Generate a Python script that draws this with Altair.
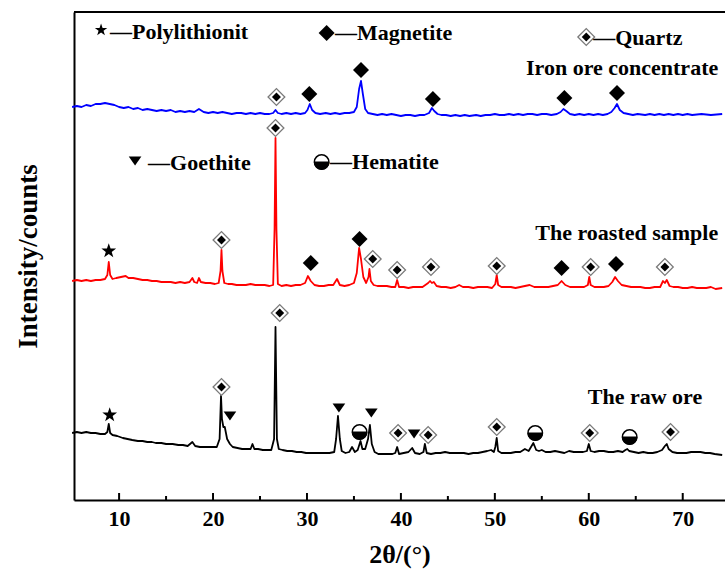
import altair as alt
import pandas as pd

# ---- XRD patterns: (2theta in degrees, stacked intensity in counts) ----
concentrate = [
    (5.0, 392), (5.5, 393), (6.0, 392), (6.5, 394), (7.0, 393), (7.5, 395), (8.0, 395),
    (8.5, 396), (9.0, 395), (9.5, 394), (10.0, 392), (10.5, 391), (11.0, 392), (11.5, 390),
    (12.0, 391), (12.5, 389), (13.0, 390), (13.5, 389), (14.0, 388), (14.5, 389), (15.0, 388),
    (15.5, 389), (16.0, 387), (16.5, 388), (17.0, 387), (17.5, 388), (18.0, 387), (18.5, 390),
    (19.0, 387), (19.5, 386), (20.0, 387), (20.5, 386), (21.0, 387), (21.5, 386), (22.0, 385),
    (22.5, 386), (23.0, 386), (23.5, 385), (24.0, 386), (24.5, 385), (25.0, 386), (25.5, 385),
    (26.0, 385), (26.4, 386), (26.65, 389), (26.9, 386), (27.3, 385), (27.8, 386), (28.3, 385),
    (28.8, 386), (29.3, 385), (29.8, 386), (30.05, 389), (30.3, 395), (30.55, 389), (30.9, 386),
    (31.4, 385), (32.0, 386), (32.5, 385), (33.0, 386), (33.5, 385), (34.0, 386), (34.5, 386),
    (35.0, 387), (35.3, 392), (35.55, 410), (35.75, 418), (35.95, 405), (36.2, 390), (36.5, 386),
    (37.0, 385), (37.5, 384), (38.0, 385), (38.5, 384), (39.0, 385), (39.5, 384), (40.0, 383),
    (40.5, 384), (41.0, 384), (41.5, 383), (42.0, 384), (42.5, 384), (43.0, 386), (43.3, 391),
    (43.55, 388), (43.9, 385), (44.3, 384), (44.8, 384), (45.3, 383), (45.8, 384), (46.3, 383),
    (46.8, 384), (47.3, 383), (48.0, 384), (48.5, 383), (49.0, 384), (49.5, 384), (50.0, 385),
    (50.5, 384), (51.0, 384), (51.5, 385), (52.0, 384), (52.5, 385), (53.0, 384), (53.5, 385),
    (54.0, 385), (54.5, 384), (55.0, 385), (55.5, 385), (56.0, 384), (56.6, 385), (57.0, 387),
    (57.3, 390), (57.6, 388), (58.0, 385), (58.5, 384), (59.0, 385), (59.5, 384), (60.0, 385),
    (60.5, 384), (61.0, 385), (61.5, 384), (62.0, 385), (62.4, 387), (62.75, 391), (63.0, 395),
    (63.3, 389), (63.7, 386), (64.2, 385), (64.7, 384), (65.2, 385), (66.0, 384), (66.5, 385),
    (67.0, 384), (67.5, 385), (68.0, 384), (68.5, 385), (69.0, 384), (69.5, 385), (70.0, 384),
    (70.5, 385), (71.0, 384), (72.0, 385), (73.0, 384), (74.2, 385),
]

roasted = [
    (5.0, 218), (5.5, 219), (6.0, 218), (6.5, 219), (7.0, 218), (7.5, 219), (8.0, 219),
    (8.5, 220), (8.75, 224), (8.9, 237), (9.05, 224), (9.3, 220), (9.7, 221), (10.2, 222),
    (10.7, 223), (11.0, 221), (11.5, 221), (12.0, 220), (12.5, 219), (13.0, 219), (13.5, 218),
    (14.0, 218), (14.5, 217), (15.0, 217), (15.5, 217), (16.0, 216), (16.5, 217), (17.0, 216),
    (17.5, 217), (17.8, 221), (18.0, 217), (18.3, 216), (18.5, 221), (18.7, 217), (19.2, 216),
    (19.7, 216), (20.2, 215), (20.6, 216), (20.8, 228), (20.9, 249), (21.0, 228), (21.2, 216),
    (21.6, 215), (22.0, 215), (22.5, 214), (23.0, 214), (23.5, 214), (24.0, 215), (24.5, 214),
    (25.0, 214), (25.5, 214), (26.0, 213), (26.4, 214), (26.55, 270), (26.65, 361), (26.75, 270),
    (26.9, 215), (27.3, 213), (27.8, 214), (28.3, 213), (28.8, 214), (29.3, 214), (29.8, 216),
    (30.1, 223), (30.4, 218), (30.8, 214), (31.3, 213), (31.8, 213), (32.3, 214), (32.8, 214),
    (33.2, 220), (33.5, 214), (34.0, 213), (34.5, 214), (35.0, 216), (35.3, 226), (35.55, 251),
    (35.75, 240), (36.0, 222), (36.3, 216), (36.55, 222), (36.65, 230), (36.8, 218), (37.1, 214),
    (37.5, 213), (38.0, 213), (38.5, 213), (39.0, 212), (39.4, 212), (39.6, 219), (39.8, 212),
    (40.3, 212), (40.8, 211), (41.3, 212), (41.8, 212), (42.3, 212), (42.9, 216), (43.1, 218),
    (43.3, 216), (43.5, 217), (43.8, 213), (44.3, 212), (44.8, 212), (45.3, 211), (45.8, 212),
    (46.2, 214), (46.6, 212), (47.2, 212), (47.7, 211), (48.2, 212), (48.7, 212), (49.2, 212),
    (49.7, 211), (50.05, 215), (50.2, 224), (50.35, 214), (50.7, 212), (51.2, 212), (51.7, 212),
    (52.2, 211), (52.7, 212), (53.2, 213), (53.7, 214), (54.2, 212), (54.7, 212), (55.2, 212),
    (55.7, 212), (56.2, 213), (56.7, 214), (57.1, 218), (57.5, 214), (58.0, 212), (58.5, 212),
    (59.0, 212), (59.5, 212), (59.9, 214), (60.05, 222), (60.2, 214), (60.6, 212), (61.1, 212),
    (61.6, 212), (62.1, 213), (62.5, 217), (62.8, 222), (63.1, 218), (63.5, 214), (64.0, 213),
    (64.5, 212), (65.0, 212), (65.5, 212), (66.0, 211), (66.5, 211), (67.0, 212), (67.6, 212),
    (67.9, 218), (68.1, 216), (68.3, 219), (68.6, 213), (69.0, 212), (69.5, 212), (70.0, 211),
    (70.5, 211), (71.0, 212), (71.5, 211), (72.0, 211), (72.5, 211), (73.0, 212), (73.5, 210),
    (74.2, 211),
]

raw_ore = [
    (5.0, 66), (5.5, 67), (6.0, 66), (6.5, 67), (7.0, 66), (7.5, 66), (8.0, 65), (8.5, 65),
    (8.75, 67), (8.9, 75), (9.05, 66), (9.3, 64), (9.8, 63), (10.4, 61), (10.9, 60), (11.4, 59),
    (12.0, 58), (12.5, 58), (13.0, 57), (13.5, 57), (13.9, 56), (14.5, 56), (15.0, 55),
    (15.7, 55), (16.3, 54), (16.8, 54), (17.3, 53), (17.8, 57), (18.1, 53), (18.6, 52),
    (19.1, 52), (19.6, 52), (20.0, 52), (20.4, 52), (20.7, 60), (20.85, 103), (20.95, 80),
    (21.1, 72), (21.25, 72), (21.5, 60), (21.8, 55), (22.1, 52), (22.6, 51), (23.1, 50),
    (23.6, 50), (24.0, 50), (24.2, 55), (24.4, 50), (24.8, 50), (25.3, 49), (25.8, 49),
    (26.2, 49), (26.5, 60), (26.65, 172), (26.8, 60), (27.0, 50), (27.4, 49), (27.9, 48),
    (28.4, 48), (28.9, 47), (29.4, 47), (29.9, 46), (30.4, 46), (30.9, 46), (31.4, 46),
    (31.9, 46), (32.4, 46), (32.9, 47), (33.1, 60), (33.3, 83), (33.5, 60), (33.7, 48),
    (34.1, 46), (34.5, 47), (34.8, 52), (35.1, 47), (35.4, 49), (35.7, 58), (35.9, 50),
    (36.2, 50), (36.5, 60), (36.7, 74), (36.9, 55), (37.2, 47), (37.6, 45), (38.1, 45),
    (38.6, 45), (39.1, 45), (39.4, 46), (39.6, 52), (39.8, 45), (40.3, 46), (40.8, 47),
    (41.2, 51), (41.5, 46), (42.0, 45), (42.4, 47), (42.55, 55), (42.75, 46), (43.2, 45),
    (43.7, 46), (44.2, 46), (44.7, 47), (45.2, 46), (45.7, 46), (46.2, 46), (46.7, 46),
    (47.2, 45), (47.7, 46), (48.2, 46), (48.7, 47), (49.2, 48), (49.6, 49), (49.9, 47),
    (50.05, 52), (50.2, 61), (50.35, 48), (50.7, 46), (51.2, 46), (51.7, 46), (52.2, 47),
    (52.7, 47), (53.2, 50), (53.6, 48), (54.1, 56), (54.4, 49), (54.7, 48), (55.0, 49),
    (55.4, 47), (55.9, 47), (56.4, 48), (56.9, 47), (57.4, 46), (57.9, 48), (58.4, 47),
    (58.9, 47), (59.4, 47), (59.8, 48), (60.0, 55), (60.2, 48), (60.6, 47), (61.1, 48),
    (61.6, 48), (62.1, 47), (62.6, 47), (63.1, 48), (63.6, 47), (63.9, 49), (64.1, 50),
    (64.3, 48), (64.8, 47), (65.3, 46), (65.8, 47), (66.3, 46), (66.8, 46), (67.3, 47),
    (67.8, 49), (68.1, 53), (68.3, 55), (68.5, 50), (68.9, 47), (69.4, 46), (69.9, 46),
    (70.4, 46), (70.9, 47), (71.4, 47), (71.9, 47), (72.4, 46), (72.9, 46), (73.4, 45),
    (74.2, 44),
]

# ---- phase markers above the indexed reflections: (2theta, height) ----
quartz_marks = [
    (26.75, 402), (20.9, 259), (26.65, 371), (37.0, 240), (39.6, 229), (43.2, 232),
    (50.2, 233), (60.2, 232), (68.1, 232), (20.9, 112), (27.1, 186), (39.7, 66),
    (42.9, 64), (50.2, 72), (60.1, 66), (68.7, 67), (59.73, 462),
]
magnetite_marks = [
    (30.25, 405), (35.75, 429), (43.4, 400), (57.4, 401), (63.0, 406), (30.4, 236),
    (35.6, 260), (57.1, 231), (62.9, 235), (32.09, 466),
]
polylithionite_marks = [(8.9, 248), (9.0, 84)]
polylithionite_key = [(8.08, 469)]
goethite_marks = [(21.8, 83), (33.4, 91), (36.85, 86), (41.4, 65), (11.7, 338)]
hematite_marks = [(35.6, 67), (54.3, 66), (64.35, 62), (31.56, 337)]

# ---- key entries and pattern names: (2theta, height, text) ----
key_labels = [
    (9.03, 467, "—Polylithionit"),
    (32.99, 466, "—Magnetite"),
    (60.47, 461, "—Quartz"),
    (13.08, 336, "—Goethite"),
    (32.46, 337, "—Hematite"),
]
pattern_names = [
    (73.78, 431, "Iron ore concentrate"),
    (73.78, 266, "The roasted sample"),
    (72.08, 102, "The raw ore"),
]
series_names = ["Iron ore concentrate", "The roasted sample", "The raw ore"]
series_colors = ["#0000ff", "#ff0000", "#000000"]
major_ticks = [10, 20, 30, 40, 50, 60, 70]
minor_ticks = [15, 25, 35, 45, 55, 65]

FONT = "Liberation Serif"
W, H = 651, 488
X_DOMAIN = [5.2, 74.5]
Y_DOMAIN = [-1, 487]

rows = []
for name, pts in zip(series_names, [concentrate, roasted, raw_ore]):
    rows += [{"two_theta": a, "counts": b, "sample": name} for a, b in pts]
patterns = pd.DataFrame(rows)

xs = alt.Scale(domain=X_DOMAIN, nice=False, zero=False)
ys = alt.Scale(domain=Y_DOMAIN, nice=False, zero=False)

x_axis = alt.Axis(
    values=major_ticks, ticks=False, grid=False, domain=True, domainColor="black",
    domainWidth=2, labelFont=FONT, labelFontSize=22, labelFontWeight="bold",
    labelColor="black", labelPadding=8, title="2θ/(°)", titleFont=FONT,
    titleFontSize=26, titleFontWeight="bold", titleColor="black", titlePadding=12,
)
y_axis = alt.Axis(
    labels=False, ticks=False, grid=False, domain=True, domainColor="black",
    domainWidth=2, title="Intensity/counts", titleFont=FONT, titleFontSize=27,
    titleFontWeight="bold", titleColor="black", titlePadding=32,
)

lines = alt.Chart(patterns).mark_line(strokeWidth=1.8, strokeJoin="round").encode(
    x=alt.X("two_theta:Q", scale=xs, axis=x_axis),
    y=alt.Y("counts:Q", scale=ys, axis=y_axis),
    color=alt.Color("sample:N", scale=alt.Scale(domain=series_names, range=series_colors), legend=None),
    detail="sample:N",
)


def pts_df(pts):
    return pd.DataFrame(pts, columns=["two_theta", "counts"])


def symbols(pts, **mark):
    return alt.Chart(pts_df(pts)).mark_point(opacity=1, **mark).encode(
        x=alt.X("two_theta:Q", scale=xs),
        y=alt.Y("counts:Q", scale=ys),
    )


STAR = ("M0,-1L0.235,-0.324L0.951,-0.309L0.38,0.124L0.588,0.809L0,0.4"
        "L-0.588,0.809L-0.38,0.124L-0.951,-0.309L-0.235,-0.324Z")
TRI_DOWN = "M-1,-0.7L1,-0.7L0,0.7Z"
LOWER_HALF = "M-1,0A1,1,0,0,0,1,0Z"

quartz_outer = symbols(quartz_marks, shape="diamond", size=280, filled=True,
                       fill="white", stroke="#7a7a7a", strokeWidth=1.3)
quartz_inner = symbols(quartz_marks, shape="diamond", size=80, filled=True,
                       fill="black", strokeWidth=0)
magnetite = symbols(magnetite_marks, shape="diamond", size=256, filled=True,
                    fill="black", strokeWidth=0)
polylith = symbols(polylithionite_marks, shape=STAR, size=240, filled=True,
                   fill="black", strokeWidth=0)
polylith_key = symbols(polylithionite_key, shape=STAR, size=170, filled=True,
                       fill="black", strokeWidth=0)
goethite = symbols(goethite_marks, shape=TRI_DOWN, size=160, filled=True,
                   fill="black", strokeWidth=0)
hematite_ring = symbols(hematite_marks, shape="circle", size=210, filled=True,
                        fill="white", stroke="black", strokeWidth=1.5)
hematite_half = symbols(hematite_marks, shape=LOWER_HALF, size=210, filled=True,
                        fill="black", stroke="black", strokeWidth=1)


def texts(items, align):
    df = pd.DataFrame(items, columns=["two_theta", "counts", "label"])
    return alt.Chart(df).mark_text(
        align=align, baseline="middle", font=FONT, fontSize=22,
        fontWeight="bold", color="black",
    ).encode(
        x=alt.X("two_theta:Q", scale=xs),
        y=alt.Y("counts:Q", scale=ys),
        text="label:N",
    )


key_text = texts(key_labels, "left")
name_text = texts(pattern_names, "right")

# inward-pointing tick marks on the 2θ axis
major = alt.Chart(pd.DataFrame({"two_theta": major_ticks})).mark_rule(
    color="black", strokeWidth=2).encode(
    x=alt.X("two_theta:Q", scale=xs), y=alt.value(H), y2=alt.value(H - 7))
minor = alt.Chart(pd.DataFrame({"two_theta": minor_ticks})).mark_rule(
    color="black", strokeWidth=2).encode(
    x=alt.X("two_theta:Q", scale=xs), y=alt.value(H), y2=alt.value(H - 4))

# top frame line
frame_top = alt.Chart(pd.DataFrame({"two_theta": [X_DOMAIN[0]]})).mark_rule(
    color="black", strokeWidth=2).encode(
    x=alt.value(0), x2=alt.value(W), y=alt.value(0))

chart = alt.layer(
    lines, major, minor, frame_top,
    quartz_outer, quartz_inner, magnetite, polylith, polylith_key, goethite,
    hematite_ring, hematite_half, key_text, name_text,
).properties(
    width=W, height=H,
    padding={"left": 74, "top": 12, "right": 0, "bottom": 77},
    autosize=alt.AutoSizeParams(type="none"),
    background="white",
).configure_view(stroke=None)

chart.save("out.html", embed_options={"renderer": "svg", "actions": False})
